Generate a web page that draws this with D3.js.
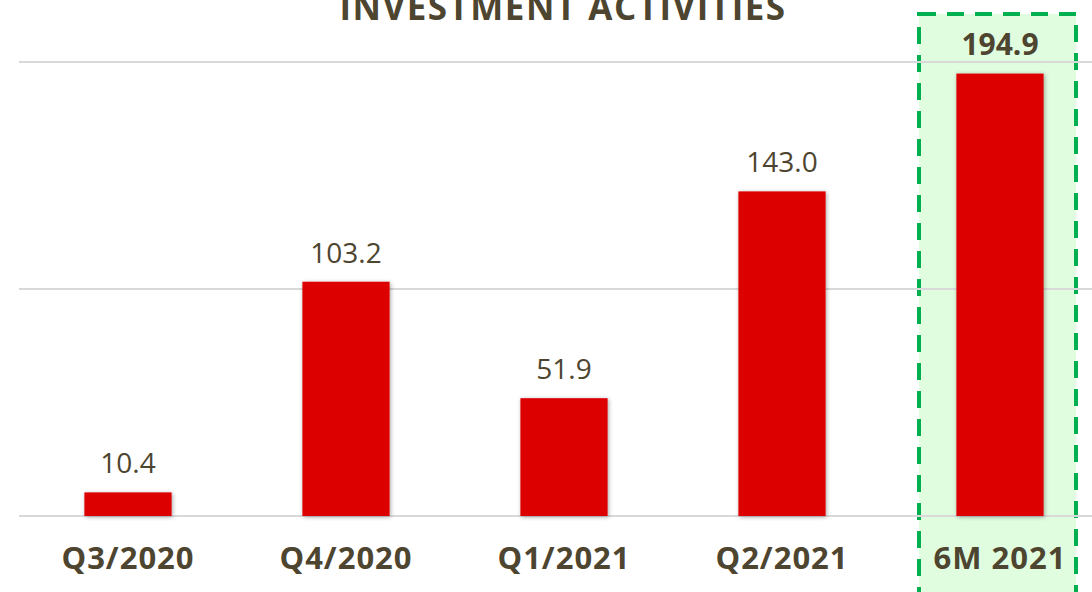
<!DOCTYPE html>
<html>
<head>
<meta charset="utf-8">
<script src="https://cdn.jsdelivr.net/npm/d3@7"></script>
<style>
  body { margin: 0; background: #ffffff; }
  svg { display: block; font-family: 'Open Sans', sans-serif; }
</style>
</head>
<body>
<div id="wrapper"></div>
<script>
const categories = ['Q3/2020', 'Q4/2020', 'Q1/2021', 'Q2/2021', '6M 2021']
const values = [10.4, 103.2, 51.9, 143.0, 194.9]
const gridTicks = [0, 100, 200]
const highlighted = '6M 2021'
const title = 'INVESTMENT ACTIVITIES'

function drawBarChart() {
  const dimensions = { width: 1092, height: 592 }
  const textColor = '#4d4530'

  // x band scale - bars ~87px wide, 218px apart
  const xScale = d3
    .scaleBand()
    .domain(categories)
    .range([19, 1109])
    .paddingInner(0.6)
    .paddingOuter(0.3)

  // y scale - 0 at baseline, 200 at top gridline
  const yScale = d3.scaleLinear().domain([0, 200]).range([516, 62])

  const svg = d3
    .select('#wrapper')
    .append('svg')
    .attr('width', dimensions.width)
    .attr('height', dimensions.height)

  // soft shadow for bars
  const filter = svg
    .append('defs')
    .append('filter')
    .attr('id', 'shadow')
    .attr('x', '-20%')
    .attr('y', '-20%')
    .attr('width', '140%')
    .attr('height', '140%')
  filter
    .append('feDropShadow')
    .attr('dx', 1)
    .attr('dy', 1)
    .attr('stdDeviation', 2)
    .attr('flood-color', '#000')
    .attr('flood-opacity', 0.35)

  // highlight box behind the last bar
  const hx = xScale(highlighted) + xScale.bandwidth() / 2
  svg
    .append('rect')
    .attr('x', hx - 81)
    .attr('y', 14)
    .attr('width', 157)
    .attr('height', 600)
    .attr('fill', '#e0fde0')
    .attr('stroke', '#00b050')
    .attr('stroke-width', 4)
    .attr('stroke-dasharray', '17 11')

  // gridlines
  svg
    .append('g')
    .selectAll('line')
    .data(gridTicks)
    .join('line')
    .attr('x1', 19)
    .attr('x2', dimensions.width)
    .attr('y1', (d) => yScale(d))
    .attr('y2', (d) => yScale(d))
    .attr('stroke', '#d9d9d9')
    .attr('stroke-width', 2)

  // bars
  svg
    .append('g')
    .selectAll('rect')
    .data(values)
    .join('rect')
    .attr('x', (d, i) => xScale(categories[i]))
    .attr('y', (d) => yScale(d))
    .attr('width', xScale.bandwidth())
    .attr('height', (d) => yScale(0) - yScale(d))
    .attr('fill', '#dd0000')
    .attr('filter', 'url(#shadow)')

  // value labels - highlighted one is bold and a bit larger
  svg
    .append('g')
    .selectAll('text')
    .data(values)
    .join('text')
    .attr('x', (d, i) => xScale(categories[i]) + xScale.bandwidth() / 2)
    .attr('y', (d) => yScale(d) - 19)
    .attr('text-anchor', 'middle')
    .attr('font-size', (d, i) => (categories[i] === highlighted ? 30 : 28))
    .attr('font-weight', (d, i) => (categories[i] === highlighted ? 700 : 400))
    .attr('fill', textColor)
    .text((d) => d.toFixed(1))

  // category labels
  const xAxis = d3.axisBottom(xScale).tickSize(0).tickPadding(0)
  const xAxisGroup = svg
    .append('g')
    .attr('transform', 'translate(0, 569)')
    .call(xAxis)
  xAxisGroup.select('.domain').remove()
  xAxisGroup
    .selectAll('text')
    .attr('dy', 0)
    .attr('font-family', "'Open Sans', sans-serif")
    .attr('font-size', 31)
    .attr('font-weight', 700)
    .attr('letter-spacing', '1px')
    .attr('fill', textColor)

  // title, cut off at the top as in the source
  svg
    .append('text')
    .attr('x', 563)
    .attr('y', 20)
    .attr('text-anchor', 'middle')
    .attr('font-size', 35)
    .attr('font-weight', 700)
    .attr('letter-spacing', '1.5px')
    .attr('fill', textColor)
    .text(title)
}

drawBarChart()
</script>
</body>
</html>
